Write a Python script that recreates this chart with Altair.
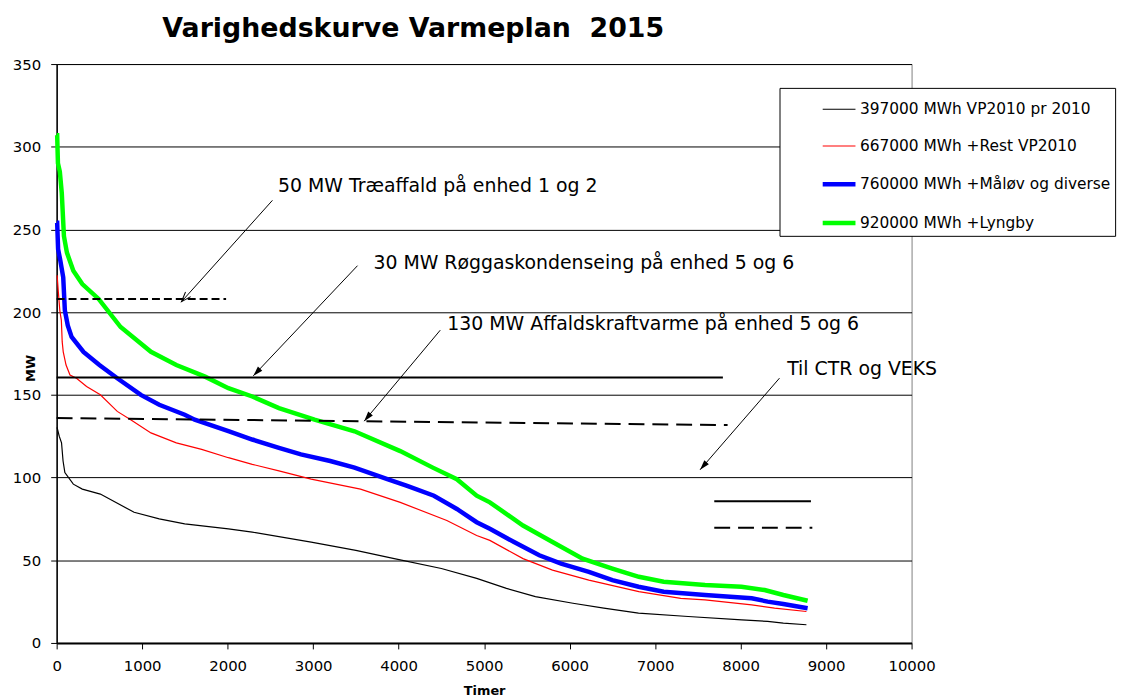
import math
import altair as alt
import pandas as pd

# ---------------- data ----------------
series_names = [
    "397000 MWh VP2010 pr 2010",
    "667000 MWh +Rest VP2010",
    "760000 MWh +Måløv og diverse",
    "920000 MWh +Lyngby",
]
series_colors = ["#000000", "#ff0000", "#0000ff", "#00ff00"]
series_widths = [1.2, 1.2, 4.5, 4.5]

black_hours = [0, 6, 30, 57, 75, 96, 195, 300, 511, 906, 1200, 1498, 2009, 2288, 2977, 3500, 3949,
               4500, 4913, 5261, 5600, 6039, 6400, 6806, 7387, 8014, 8316, 8500, 8770]
black_mw = [130, 130, 125, 121, 110, 103, 96, 93, 90, 79, 75, 72, 69, 67, 61, 56, 51,
            45, 39, 33, 28, 24, 21, 18, 16, 14, 13, 12, 11]

red_hours = [0, 6, 20, 37, 55, 65, 77, 110, 156, 232, 350, 511, 709, 866, 1103, 1400, 1696, 2009,
             2288, 2600, 2977, 3554, 4019, 4564, 4913, 5067, 5455, 5800, 6225, 6810, 7300, 7584,
             8130, 8397, 8770]
red_mw = [222, 222, 212, 201, 195, 182, 176, 168, 162, 160, 155, 150, 140, 135, 127, 121, 117, 112,
          108, 104, 99, 93, 85, 74, 65, 62, 51, 44, 38, 31, 27, 26,
          23, 21, 19]

blue_hours = [0, 6, 17, 40, 77, 96, 130, 175, 314, 500, 709, 985, 1200, 1498, 1615, 2009, 2288,
              2600, 2857, 3200, 3484, 3868, 4100, 4413, 4681, 4913, 5067, 5350, 5645, 5900, 6225,
              6500, 6806, 7100, 7584, 8130, 8316, 8500, 8784]
blue_mw = [254, 254, 238, 232, 221, 201, 192, 185, 176, 168, 160, 150, 144, 138, 135, 128, 123,
           118, 114, 110, 106, 99, 95, 89, 81, 73, 69, 61, 53, 48, 43,
           38, 34, 31, 29, 27, 25, 23.5, 21]

green_hours = [0, 6, 15, 37, 60, 85, 120, 195, 300, 491, 748, 1103, 1400, 1736, 2009, 2288, 2600,
               3016, 3484, 4019, 4400, 4681, 4913, 5067, 5455, 5800, 6152, 6500, 6810, 7100, 7584,
               8010, 8281, 8500, 8784]
green_mw = [307, 307, 290, 285, 272, 246, 236, 225, 217, 208, 191, 176, 168, 161, 154, 149, 142,
            135, 128, 116, 106, 99, 89, 85, 71, 61, 51, 45, 40, 37, 35,
            34, 32, 29, 25.5]

# horizontal capacity lines
ref_kind = ["short", "solid", "long", "solid", "long"]
ref_hours_start = [0, 0, 0, 7692, 7692]
ref_hours_end = [1982, 7793, 7848, 8823, 8839]
ref_mw_start = [208, 160.5, 136, 85.7, 69.6]
ref_mw_end = [208, 160.5, 131.7, 85.7, 69.6]

# annotations
note_text = [
    "50 MW Træaffald på enhed 1 og 2",
    "30 MW Røggaskondenseing på enhed 5 og 6",
    "130 MW Affaldskraftvarme på enhed 5 og 6",
    "Til CTR og VEKS",
]
note_hours = [2590, 3705, 4570, 8545]
note_mw = [272.9, 226.3, 189.1, 162.1]

arrow_start_hours = [2524, 3519, 4487, 8455]
arrow_start_mw = [267.6, 228.1, 189.1, 160.1]
arrow_end_hours = [1460, 2300, 3597, 7526]
arrow_end_mw = [206.3, 161.5, 134.1, 104.7]
arrow_head = ["open", "filled", "filled", "filled"]

x_ticks = list(range(0, 10001, 1000))
y_ticks = list(range(0, 351, 50))

# ---------------- layout ----------------
W, H = 861, 583
X_MAX, Y_MAX = 10000, 350
kx, ky = W / X_MAX, H / Y_MAX
HEAD = 10  # arrowhead length in px

rows = []
for name, hrs, mws in zip(series_names,
                          [black_hours, red_hours, blue_hours, green_hours],
                          [black_mw, red_mw, blue_mw, green_mw]):
    for h, m in zip(hrs, mws):
        rows.append({"series": name, "hours": h, "mw": m})
curves = pd.DataFrame(rows)

refs = pd.DataFrame({"kind": ref_kind, "h1": ref_hours_start, "h2": ref_hours_end,
                     "m1": ref_mw_start, "m2": ref_mw_end})

notes = pd.DataFrame({"text": note_text, "hours": note_hours, "mw": note_mw})

head_rows = []
for hs, ms, he, me, kind in zip(arrow_start_hours, arrow_start_mw, arrow_end_hours, arrow_end_mw, arrow_head):
    dxp = (he - hs) * kx
    dyp = -(me - ms) * ky
    L = math.hypot(dxp, dyp)
    ux, uy = dxp / L, dyp / L
    ang = math.degrees(math.atan2(dxp, -dyp)) % 360
    ch = he - ux * HEAD / 2 / kx
    cm = me + uy * HEAD / 2 / ky
    head_rows.append({"h1": hs, "m1": ms, "h2": he, "m2": me, "kind": kind,
                      "hh": ch, "hm": cm, "angle": ang})
arrows = pd.DataFrame(head_rows)

FONT = "DejaVu Sans"

x_scale = alt.Scale(domain=[0, X_MAX], nice=False, zero=True)
y_scale = alt.Scale(domain=[0, Y_MAX], nice=False, zero=True)

x_axis = alt.Axis(values=x_ticks, grid=False, title="Timer", labelFont=FONT, labelFontSize=15,
                  labelColor="black", labelPadding=10, tickColor="black", tickSize=6,
                  domainColor="black", domainWidth=2, titleFont=FONT, titleFontSize=13,
                  titleFontWeight="bold", titleColor="black", titleY=52, titleBaseline="alphabetic",
                  format="d", labelFlush=False)
y_axis = alt.Axis(values=y_ticks, grid=True, gridColor="black", gridWidth=1, title="MW",
                  labelFont=FONT, labelFontSize=15, labelColor="black", labelPadding=10,
                  tickColor="black", tickSize=6, domainColor="black", domainWidth=1.5,
                  titleFont=FONT, titleFontSize=13, titleFontWeight="bold", titleColor="black",
                  titleAngle=270, titleX=-26, titleY=306, titleAlign="center",
                  titleBaseline="middle", format="d")


def X(field):
    return alt.X(field, type="quantitative", scale=x_scale, axis=x_axis)


def Y(field):
    return alt.Y(field, type="quantitative", scale=y_scale, axis=y_axis)


legend = alt.Legend(title=None, orient="none", legendX=728, legendY=24, symbolType="stroke",
                    symbolSize=1089, fillColor="white", strokeColor="black", padding=4,
                    rowPadding=11, labelFont=FONT, labelFontSize=15.5, labelColor="black",
                    labelOffset=2, symbolOffset=37, labelLimit=500)

lines = alt.Chart(curves).mark_line(strokeJoin="miter").encode(
    x=X("hours"), y=Y("mw"),
    color=alt.Color("series:N", scale=alt.Scale(domain=series_names, range=series_colors), legend=legend),
    strokeWidth=alt.StrokeWidth("series:N", scale=alt.Scale(type="ordinal", domain=series_names,
                                                            range=series_widths), legend=legend),
)

ref_layer = alt.Chart(refs).mark_rule(color="black", strokeWidth=2).encode(
    x=X("h1"), x2="h2", y=Y("m1"), y2="m2",
    strokeDash=alt.StrokeDash("kind:N", scale=alt.Scale(domain=["short", "solid", "long"],
                                                        range=[[8, 4], [1, 0], [16, 8]]), legend=None),
)

arrow_lines = alt.Chart(arrows).mark_rule(color="black", strokeWidth=1).encode(
    x=X("h1"), x2="h2", y=Y("m1"), y2="m2")

heads_filled = alt.Chart(arrows).transform_filter(alt.datum.kind == "filled").mark_point(
    shape="M0,-1L0.6,1L-0.6,1Z", size=HEAD * HEAD, filled=True, color="black", opacity=1
).encode(x=X("hh"), y=Y("hm"), angle=alt.Angle("angle:Q", scale=None))

heads_open = alt.Chart(arrows).transform_filter(alt.datum.kind == "open").mark_point(
    shape="M-0.7,1L0,-1L0.7,1", size=HEAD * HEAD, filled=False, color="black", opacity=1, strokeWidth=1
).encode(x=X("hh"), y=Y("hm"), angle=alt.Angle("angle:Q", scale=None))

note_layer = alt.Chart(notes).mark_text(align="left", baseline="alphabetic", font=FONT,
                                        fontSize=19, color="black").encode(
    x=X("hours"), y=Y("mw"), text="text:N")

chart = alt.layer(lines, ref_layer, arrow_lines, heads_filled, heads_open, note_layer).properties(
    width=W, height=H,
    title=alt.TitleParams(text="Varighedskurve Varmeplan \u00a02015", font=FONT, fontSize=27,
                          fontWeight="bold", color="black", anchor="start", dx=151, offset=-7,
                          baseline="alphabetic"),
    padding={"left": 49, "top": 54, "right": 223, "bottom": 54},
    autosize=alt.AutoSizeParams(type="none"),
    background="white",
).configure_view(stroke="#808080", strokeWidth=1)

chart.save("out.html", embed_options={"renderer": "svg", "actions": False})
